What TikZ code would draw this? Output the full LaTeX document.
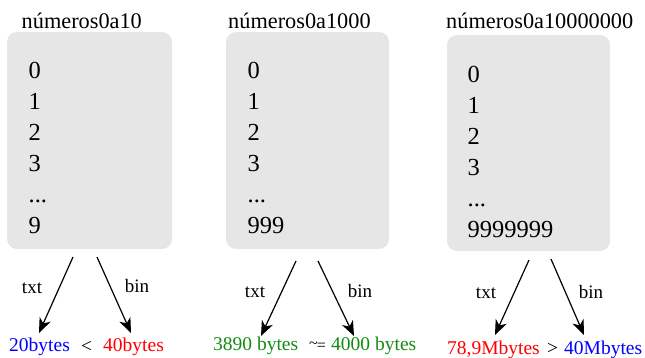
\documentclass[tikz,border=0pt]{standalone}
\usepackage{fontspec}
\setmainfont{Liberation Serif}
\usetikzlibrary{arrows.meta}
\definecolor{boxgray}{RGB}{230,230,230}
\definecolor{mygreen}{RGB}{20,140,20}
\begin{document}
\begin{tikzpicture}[x=1pt,y=-1pt,
  panel/.style={fill=boxgray,rounded corners=10pt},
  ttl/.style={inner sep=0pt,anchor=base west,font=\fontsize{22.3}{26}\selectfont},
  num/.style={inner sep=0pt,anchor=base west,font=\fontsize{24.5}{28}\selectfont},
  lab/.style={inner sep=0pt,font=\fontsize{19}{21}\selectfont},
  res/.style={inner sep=0pt,anchor=base west,font=\fontsize{19.5}{22}\selectfont},
  arr/.style={-{Stealth[length=15pt,width=12pt,inset=4.5pt]},line width=1.2pt}]
\useasboundingbox (0,0) rectangle (645,357);
% panels
\fill[panel] (7,32) rectangle (172,249);
\fill[panel] (226,32) rectangle (389,249);
\fill[panel] (447,35) rectangle (610,251);
% titles
\node[ttl] (t1) at (21.5,28) {números0a10};
\node[ttl] (t2) at (228,28) {números0a1000};
\node[ttl] (t3) at (446,28) {números0a10000000};
% numbers
\node[num] (a0) at (28.5,78) {0};
\node[num] (a1) at (28.5,109) {1};
\node[num] (a2) at (28.5,140) {2};
\node[num] (a3) at (28.5,171) {3};
\node[num] (a4) at (28.5,202) {...};
\node[num] (a5) at (28.5,233) {9};
\node[num] (b0) at (247.5,78) {0};
\node[num] (b1) at (247.5,109) {1};
\node[num] (b2) at (247.5,140) {2};
\node[num] (b3) at (247.5,171) {3};
\node[num] (b4) at (247.5,202) {...};
\node[num] (b5) at (247.5,233) {999};
\node[num] (c0) at (467.5,82) {0};
\node[num] (c1) at (467.5,113) {1};
\node[num] (c2) at (467.5,144) {2};
\node[num] (c3) at (467.5,175) {3};
\node[num] (c4) at (467.5,206) {...};
\node[num] (c5) at (467.5,237) {9999999};
% arrows
\coordinate (p1s) at (73,257); \coordinate (p1e) at (39,333);
\coordinate (q1s) at (97,257); \coordinate (q1e) at (131,333);
\coordinate (p2s) at (296,261); \coordinate (p2e) at (261,336);
\coordinate (q2s) at (318,261); \coordinate (q2e) at (354,336);
\coordinate (p3s) at (529,260); \coordinate (p3e) at (495,335);
\coordinate (q3s) at (551,259); \coordinate (q3e) at (584,335);
\draw[arr] (p1s) -- (p1e);
\draw[arr] (q1s) -- (q1e);
\draw[arr] (p2s) -- (p2e);
\draw[arr] (q2s) -- (q2e);
\draw[arr] (p3s) -- (p3e);
\draw[arr] (q3s) -- (q3e);
\node[lab] (l1) at (32,288) {txt};
\node[lab] (m1) at (137,286) {bin};
\node[lab] (l2) at (255,292) {txt};
\node[lab] (m2) at (360,291) {bin};
\node[lab] (l3) at (486,293) {txt};
\node[lab] (m3) at (591,292) {bin};
% results
\node[res,text=blue] (r1) at (9,351) {20bytes};
\node[res] (s1) at (81,352) {<};
\node[res,text=red] (u1) at (103,351) {40bytes};
\node[res,text=mygreen] (r2) at (213,350) {3890 bytes};
\node[res,font=\fontsize{16}{18}\selectfont] (s2) at (309,350) {\raisebox{1.5pt}{\textasciitilde}\kern-1pt=};
\node[res,text=mygreen] (u2) at (331,350) {4000 bytes};
\node[res,text=red] (r3) at (447,354) {78,9Mbytes};
\node[res] (s3) at (547,354) {>};
\node[res,text=blue] (u3) at (564,354) {40Mbytes};
\end{tikzpicture}
\end{document}
